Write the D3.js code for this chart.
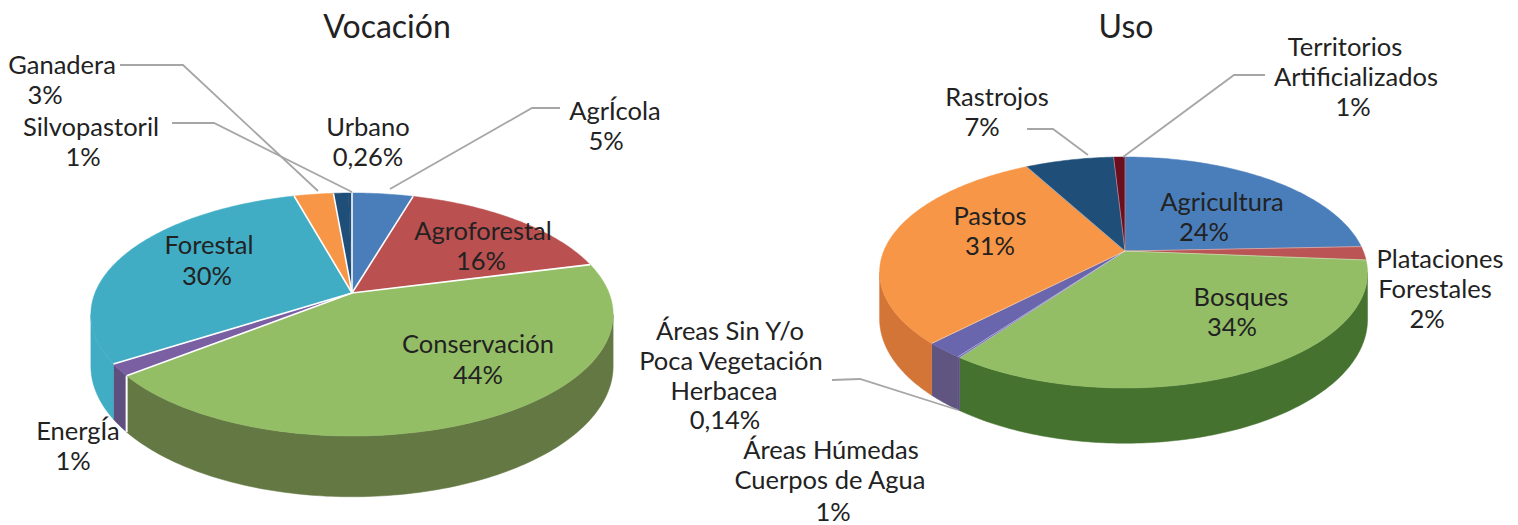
<!DOCTYPE html>
<html>
<head>
<meta charset="utf-8">
<script src="https://cdn.jsdelivr.net/npm/d3@7"></script>
<style>
  html, body { margin: 0; padding: 0; background: #fff; }
  svg { display: block; }
  text { font-family: Lato, "Open Sans", sans-serif; fill: #222; text-anchor: middle; }
</style>
</head>
<body>
<div id="chart"></div>
<script>
'use strict';

// Vocación
var vocacionCategories = [["AgrÍcola"], ["Agroforestal"], ["Conservación"], ["EnergÍa"], ["Forestal"], ["Ganadera"], ["Silvopastoril"], ["Urbano"]];
var vocacionValues     = [4.5, 16.5, 43.4, 1.6, 30, 2.9, 1.1, 0.26];
var vocacionLabels     = ["5%", "16%", "44%", "1%", "30%", "3%", "1%", "0,26%"];

// Uso
var usoCategories = [["Agricultura"], ["Plataciones", "Forestales"], ["Bosques"], ["Áreas Sin Y/o", "Poca Vegetación", "Herbacea"], ["Áreas Húmedas", "Cuerpos de Agua"], ["Pastos"], ["Rastrojos"], ["Territorios", "Artificializados"]];
var usoValues     = [24.4, 1.9, 33.7, 0.14, 2.2, 29.9, 7, 0.9];
var usoLabels     = ["24%", "2%", "34%", "0,14%", "1%", "31%", "7%", "1%"];

// label line centres, same order as the categories (last line is the value)
var vocacionLabelPos = [
	[[615,111],[606,141]],
	[[483,231],[481,261]],
	[[478,344],[478,375]],
	[[78,431],[73,461]],
	[[209,245],[207,276]],
	[[62,65],[45,95]],
	[[91,127],[83,157]],
	[[368,127],[368,157]]
];
var usoLabelPos = [
	[[1222,202],[1204,232]],
	[[1440,259],[1435,289],[1427,319]],
	[[1241,297],[1232,327]],
	[[730,331],[731,361],[724,391],[725,420]],
	[[831,450],[830,480],[833,512]],
	[[990,216],[990,246]],
	[[997,97],[982,127]],
	[[1345,47],[1356,77],[1353,107]]
];

var vocacionLeaders = [
	[[120,65],[183,65],[318,191]],
	[[172,123],[214,123],[352,192]],
	[[560,108],[532,108],[390,189]]
];
var usoLeaders = [
	[[1027,129],[1053,129],[1088,155]],
	[[1265,75],[1234,75],[1123,157]],
	[[832,380],[860,379],[958,410]]
];

var svg = d3.select('#chart').append('svg')
	.attr('width', 1518)
	.attr('height', 525);

function PlotPie3D(config) {
	var cx = config.cx, cy = config.cy;
	var R = config.radius, K = config.depthRadius, p = config.perspective, D = config.wall;
	var lean = config.lean || 0;

	var pie = d3.pie().sort(null).value(function(d) { return d; });
	var arcs = pie(config.values);

	// the wall only faces the viewer between these two angles
	var frontStart = Math.acos(-p), frontEnd = 2 * Math.PI - frontStart;

	// a point on the disc; angle is clockwise from the top, like d3.pie
	function project(angle, r, drop) {
		var s = Math.sin(angle), w = 1 + p * Math.cos(angle) * r;
		return [cx + R * r * s / w - lean * r * s * s,
		        cy - K * r * Math.cos(angle) / w + (drop ? D / w : 0)];
	}
	function sample(a0, a1, drop) {
		var n = Math.max(2, Math.ceil((a1 - a0) * 60));
		return d3.range(n + 1).map(function(i) {
			return project(a0 + (a1 - a0) * i / n, 1, drop);
		});
	}
	var line = d3.line();
	var g = svg.append('g');

	g.selectAll('.wall')
		.data(arcs.filter(function(d) { return d.endAngle > frontStart && d.startAngle < frontEnd; }))
		.enter().append('path')
		.attr('class', 'wall')
		.attr('d', function(d) {
			var a0 = Math.max(d.startAngle, frontStart), a1 = Math.min(d.endAngle, frontEnd);
			return line(sample(a0, a1, false).concat(sample(a0, a1, true).reverse())) + 'Z';
		})
		.style('fill', function(d) { return config.wallColors[d.index]; })
		.style('stroke', function(d) { return config.wallColors[d.index]; })
		.style('stroke-width', 0.5);

	// thin white joints between the wall pieces
	g.selectAll('.joint')
		.data(arcs.filter(function(d) { return config.joints.indexOf(d.index) >= 0; }))
		.enter().append('path')
		.attr('class', 'joint')
		.attr('d', function(d) {
			return line([project(d.startAngle, 1, false), project(d.startAngle, 1, true)]);
		})
		.style('stroke', '#fff')
		.style('stroke-width', 2);

	g.selectAll('.slice')
		.data(arcs)
		.enter().append('path')
		.attr('class', 'slice')
		.attr('d', function(d) {
			return line([[cx, cy]].concat(sample(d.startAngle, d.endAngle, false))) + 'Z';
		})
		.style('fill', function(d, i) { return config.colors[i]; })
		.style('stroke', function(d, i) { return config.colors[i]; })
		.style('stroke-width', 0.5);

	// white only along the radial edges, the rim stays clean
	g.selectAll('.edge')
		.data(arcs.filter(function(d) { return config.noEdge.indexOf(d.index) < 0; }))
		.enter().append('path')
		.attr('class', 'edge')
		.attr('d', function(d) { return line([[cx, cy], project(d.startAngle, 1, false)]); })
		.style('stroke', '#fff')
		.style('stroke-width', config.stroke);

	g.selectAll('.leader')
		.data(config.leaders)
		.enter().append('path')
		.attr('class', 'leader')
		.attr('d', line)
		.style('fill', 'none')
		.style('stroke', '#a6a6a6')
		.style('stroke-width', 1.8);

	svg.append('text')
		.attr('x', config.titleX)
		.attr('y', 38)
		.style('font-size', '32px')
		.text(config.title);

	config.categories.forEach(function(lines, i) {
		lines.concat([config.labels[i]]).forEach(function(t, j) {
			var pos = config.labelPos[i][j];
			svg.append('text')
				.attr('x', pos[0])
				.attr('y', pos[1] + 9)
				.style('font-size', '25.5px')
				.text(t);
		});
	});
}

PlotPie3D({
	title: 'Vocación', titleX: 387,
	cx: 352, cy: 293, radius: 257, depthRadius: 117.7, perspective: 0.177, wall: 50,
	stroke: 1.6,
	values: vocacionValues, categories: vocacionCategories, labels: vocacionLabels,
	labelPos: vocacionLabelPos, leaders: vocacionLeaders,
	joints: [3], noEdge: [7],
	colors: ['#4a7ebb', '#bb5050', '#93be65', '#7a5fa3', '#40adc4', '#f79646', '#1f4e79', '#1f4e79'],
	wallColors: ['#4a7ebb', '#8c3a38', '#647844', '#5e4f7f', '#40adc4', '#d37537', '#173a5a', '#173a5a']
});

PlotPie3D({
	title: 'Uso', titleX: 1126,
	cx: 1125, cy: 251, radius: 239.7, depthRadius: 111.5, perspective: 0.186, wall: 45, lean: 1.5,
	stroke: 0.4,
	values: usoValues, categories: usoCategories, labels: usoLabels,
	labelPos: usoLabelPos, leaders: usoLeaders,
	joints: [], noEdge: [],
	colors: ['#4a7ebb', '#bb5555', '#93be65', '#6a66ae', '#6a66ae', '#f79646', '#1f4e79', '#6b0f1f'],
	wallColors: ['#386096', '#8c3a38', '#467230', '#5f5580', '#5f5580', '#d37537', '#173a5a', '#50101a']
});
</script>
</body>
</html>
